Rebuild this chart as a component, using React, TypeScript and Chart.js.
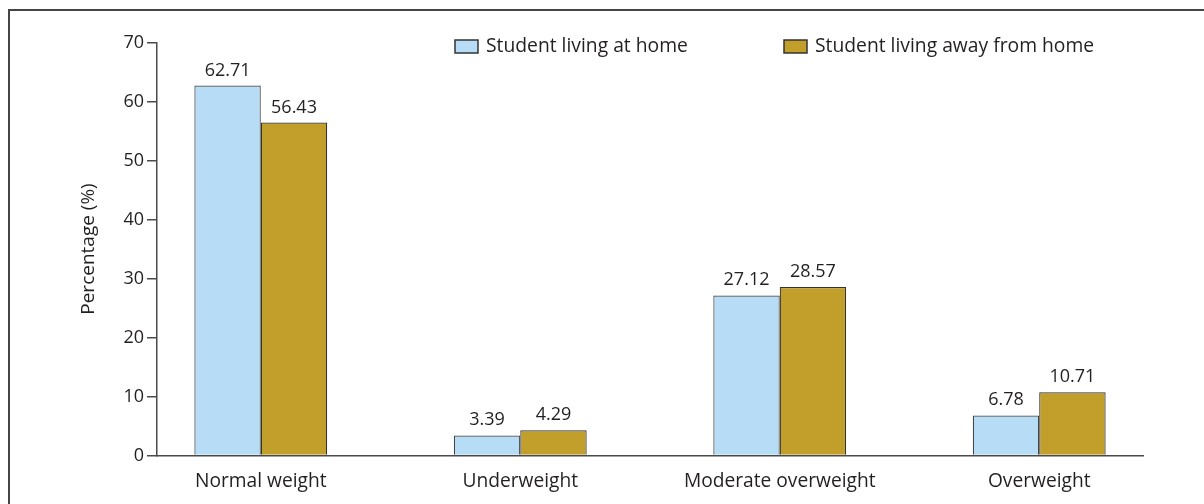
import React, { useEffect, useRef } from 'react';
import { Chart, registerables } from 'chart.js';

Chart.register(...registerables);

const categories = ['Normal weight', 'Underweight', 'Moderate overweight', 'Overweight'];
const atHome = [62.71, 3.39, 27.12, 6.78];
const awayFromHome = [56.43, 4.29, 28.57, 10.71];
const seriesLabels = ['Student living at home', 'Student living away from home'];
const yMin = 0;
const yMax = 70;
const yStep = 10;
const yTitle = 'Percentage (%)';

const TEXT = '#231f20';
const AXIS = '#4a4a4a';
const BLUE = '#b6ddf5';
const GOLD = '#c29f2a';
const EDGE = '#333333';
const FONT = "'Open Sans', 'Noto Sans', sans-serif";

const framePlugin = {
  id: 'frame',
  beforeDraw(chart: any) {
    const { ctx, width, height } = chart;
    ctx.save();
    ctx.fillStyle = '#454545';
    ctx.fillRect(8, 9, width - 8, 2);
    ctx.fillRect(8, 9, 2, height - 9);
    ctx.restore();
  },
};

const valueLabelPlugin = {
  id: 'valueLabels',
  afterDatasetsDraw(chart: any) {
    const { ctx } = chart;
    ctx.save();
    ctx.font = `18px ${FONT}`;
    ctx.fillStyle = TEXT;
    ctx.textAlign = 'center';
    ctx.textBaseline = 'alphabetic';
    chart.data.datasets.forEach((ds: any, di: number) => {
      const meta = chart.getDatasetMeta(di);
      meta.data.forEach((bar: any, i: number) => {
        const v = ds.data[i].y;
        ctx.fillText(v.toFixed(2), bar.x, bar.y - 10);
      });
    });
    ctx.restore();
  },
};

const legendPlugin = {
  id: 'customLegend',
  afterDraw(chart: any) {
    const { ctx, chartArea } = chart;
    const xs = [chartArea.left + 298, chartArea.left + 627];
    const boxTop = 40;
    ctx.save();
    ctx.font = `19.3px ${FONT}`;
    ctx.textAlign = 'left';
    ctx.textBaseline = 'middle';
    chart.data.datasets.forEach((ds: any, i: number) => {
      const x = xs[i];
      ctx.fillStyle = ds.backgroundColor;
      ctx.fillRect(x, boxTop, 23, 13);
      ctx.strokeStyle = EDGE;
      ctx.lineWidth = 1.5;
      ctx.strokeRect(x, boxTop, 23, 13);
      ctx.fillStyle = TEXT;
      ctx.fillText(ds.label, x + 31, boxTop + 7);
    });
    ctx.restore();
  },
};

export default function App() {
  const ref = useRef<HTMLCanvasElement | null>(null);

  useEffect(() => {
    document.body.style.margin = '0';
    if (!ref.current) return;
    Chart.defaults.font.family = FONT;
    Chart.defaults.color = TEXT;

    const chart = new Chart(ref.current, {
      type: 'bar',
      data: {
        datasets: [
          {
            label: seriesLabels[0],
            data: atHome.map((v, i) => ({ x: i, y: v })),
            backgroundColor: BLUE,
            borderColor: '#444444',
            borderWidth: 1.2,
          },
          {
            label: seriesLabels[1],
            data: awayFromHome.map((v, i) => ({ x: i, y: v })),
            backgroundColor: GOLD,
            borderColor: EDGE,
            borderWidth: 1.2,
          },
        ],
      } as any,
      options: {
        animation: false,
        responsive: false,
        maintainAspectRatio: false,
        devicePixelRatio: 1,
        layout: { padding: { top: 42.5, right: 61, left: 0, bottom: 0 } },
        datasets: {
          bar: { categoryPercentage: 0.512, barPercentage: 1 },
        } as any,
        plugins: {
          legend: { display: false },
          tooltip: { enabled: false },
        },
        scales: {
          x: {
            type: 'linear',
            min: -0.4,
            max: 3.4,
            offset: false,
            afterBuildTicks: (s: any) => {
              s.ticks = categories.map((_, i) => ({ value: i }));
            },
            afterFit: (s: any) => {
              s.height = 48.5;
            },
            ticks: {
              autoSkip: false,
              maxRotation: 0,
              minRotation: 0,
              padding: 14.5,
              color: TEXT,
              font: { size: 19.2, family: FONT },
              callback: (v: any) => categories[v] ?? '',
            },
            grid: { display: false, drawTicks: false },
            border: { display: true, color: AXIS, width: 1.5 },
          },
          y: {
            type: 'linear',
            min: yMin,
            max: yMax,
            afterFit: (s: any) => {
              s.width = 157;
            },
            ticks: {
              stepSize: yStep,
              padding: 3,
              color: TEXT,
              font: { size: 18, family: FONT },
            },
            grid: {
              display: true,
              drawOnChartArea: false,
              drawTicks: true,
              tickLength: 10,
              tickColor: AXIS,
              lineWidth: 1.5,
            },
            border: { display: true, color: AXIS, width: 1.5 },
            title: {
              display: true,
              text: yTitle,
              color: TEXT,
              font: { size: 19, family: FONT },
              padding: { top: 77, bottom: 0 },
            },
          },
        } as any,
      },
      plugins: [framePlugin, valueLabelPlugin, legendPlugin],
    });
    return () => chart.destroy();
  }, []);

  return (
    <canvas
      ref={ref}
      width={1204}
      height={504}
      style={{ display: 'block', width: '1204px', height: '504px' }}
    />
  );
}
